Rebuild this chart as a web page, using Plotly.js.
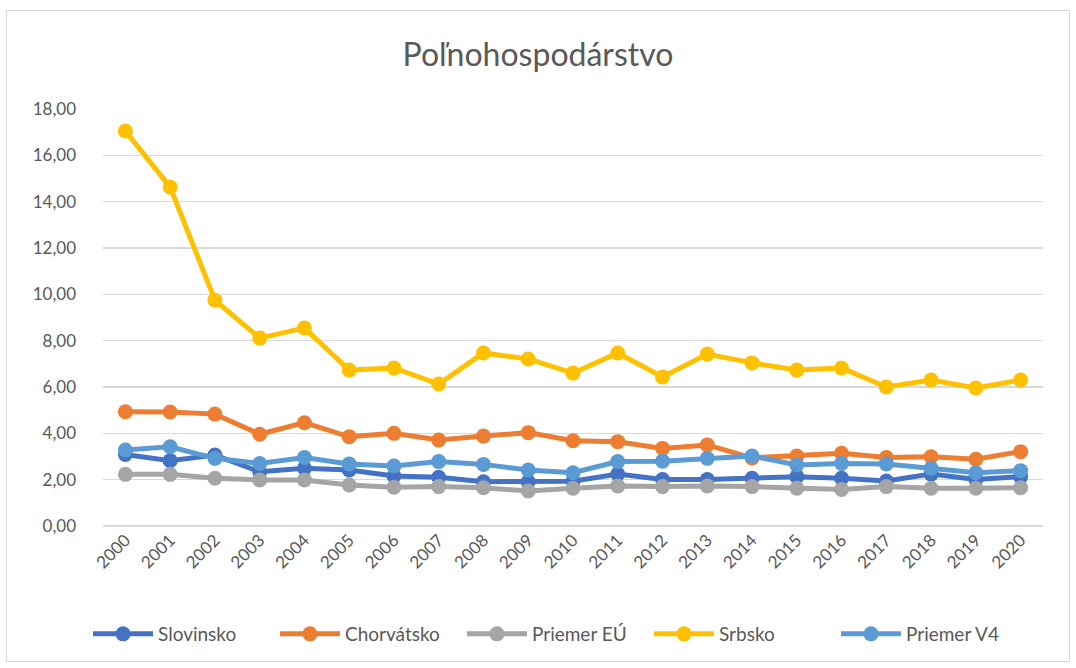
<!DOCTYPE html>
<html>
<head>
<meta charset="utf-8">
<script src="https://cdn.plot.ly/plotly-3.0.1.min.js"></script>
<style>
html,body{margin:0;padding:0;background:#fff;}
#wrap{position:relative;width:1076px;height:668px;}
#chart{width:1076px;height:668px;}
#frame{position:absolute;left:6px;top:10px;width:1062px;height:650px;border:1px solid #D9D9D9;pointer-events:none;}
</style>
</head>
<body>
<div id="wrap"><div id="chart"></div><div id="frame"></div></div>
<script>
const years = ["2000","2001","2002","2003","2004","2005","2006","2007","2008","2009","2010","2011","2012","2013","2014","2015","2016","2017","2018","2019","2020"];
const slovinsko = [3.09,2.82,3.06,2.34,2.49,2.42,2.16,2.10,1.91,1.91,1.93,2.24,2.01,2.01,2.06,2.13,2.06,1.94,2.24,2.01,2.13];
const chorvatsko = [4.93,4.92,4.83,3.96,4.46,3.85,4.00,3.71,3.88,4.03,3.68,3.64,3.35,3.50,2.94,3.02,3.14,2.96,2.99,2.88,3.21];
const priemerEU = [2.23,2.23,2.06,1.99,1.99,1.77,1.67,1.70,1.65,1.51,1.63,1.73,1.70,1.73,1.70,1.63,1.58,1.70,1.63,1.63,1.65];
const srbsko = [17.05,14.63,9.75,8.11,8.55,6.73,6.82,6.13,7.47,7.21,6.60,7.47,6.43,7.42,7.04,6.73,6.82,6.00,6.30,5.96,6.30];
const priemerV4 = [3.28,3.42,2.92,2.70,2.96,2.68,2.59,2.78,2.66,2.42,2.30,2.78,2.80,2.92,3.02,2.63,2.70,2.68,2.49,2.30,2.39];

const names = ["Slovinsko","Chorvátsko","Priemer EÚ","Srbsko","Priemer V4"];
const series = [slovinsko, chorvatsko, priemerEU, srbsko, priemerV4];
const colors = ["#4472C4","#ED7D31","#A5A5A5","#FFC000","#5B9BD5"];

const traces = series.map((s,i)=>({
  type:"scatter", mode:"lines+markers", x:years, y:s, name:names[i],
  line:{color:colors[i], width:5},
  marker:{color:colors[i], size:15, line:{width:0}}
}));

const font = "Lato, 'Open Sans', sans-serif";
const layout = {
  width:1076, height:668,
  paper_bgcolor:"#fff", plot_bgcolor:"#fff",
  separators:", ",
  margin:{l:103, r:33, t:109, b:142},
  title:{text:"Poľnohospodárstvo", font:{family:font, size:32, color:"#595959"}, x:0.5, xanchor:"center", y:1-55/668, yanchor:"middle", yref:"container"},
  xaxis:{type:"category", range:[-0.5,20.5], tickangle:-45, showgrid:false, showline:false, zeroline:false, ticks:"",
    tickfont:{family:font, size:17, color:"#595959"}, fixedrange:true},
  yaxis:{range:[0,18], dtick:2, tickformat:".2f", gridcolor:"#D9D9D9", gridwidth:1.3, zeroline:true, zerolinecolor:"#D9D9D9", zerolinewidth:1.3,
    showline:false, ticks:"", ticklabelstandoff:26, tickfont:{family:font, size:17, color:"#595959"}, fixedrange:true},
  showlegend:true,
  legend:{orientation:"h", x:(88-103)/940, xanchor:"left", y:(526-634)/417, yanchor:"middle",
    entrywidth:112, entrywidthmode:"pixels",
    font:{family:font, size:19, color:"#595959"}, itemwidth:60, traceorder:"normal"}
};
Plotly.newPlot("chart", traces, layout, {displayModeBar:false, staticPlot:true});
</script>
</body>
</html>
